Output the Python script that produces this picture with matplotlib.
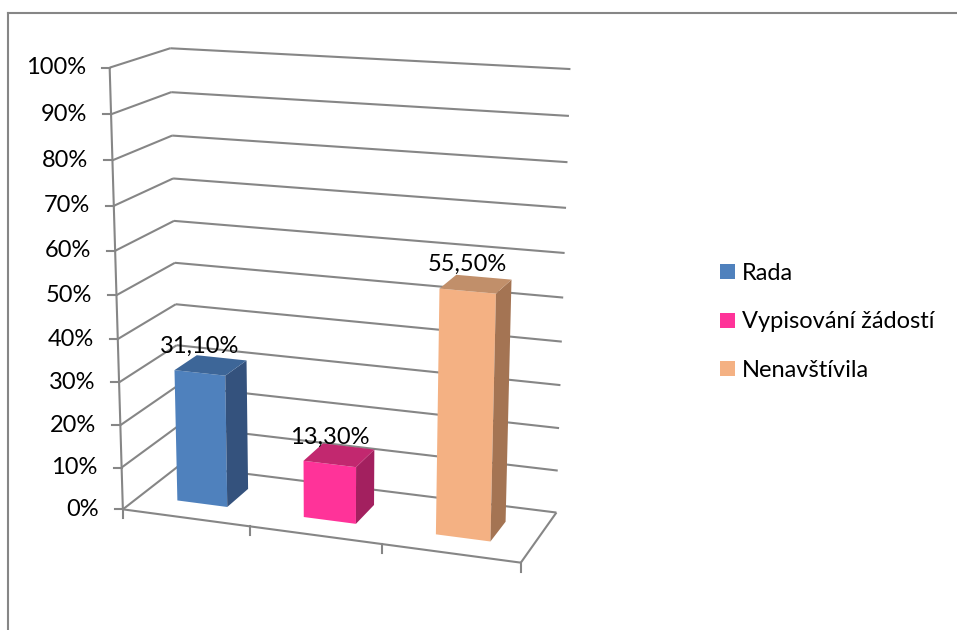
import numpy as np
import matplotlib
matplotlib.use("Agg")
import matplotlib.pyplot as plt
from matplotlib.patches import Polygon, Patch

# ---------------- data ----------------
categories = ["Rada", "Vypisování žádostí", "Nenavštívila"]
values = [31.1, 13.3, 55.5]
value_labels = ["31,10%", "13,30%", "55,50%"]
tick_values = [0, 10, 20, 30, 40, 50, 60, 70, 80, 90, 100]
tick_labels = ["0%", "10%", "20%", "30%", "40%", "50%", "60%", "70%", "80%", "90%", "100%"]

front_colors = ["#4F81BD", "#FF3399", "#F4B183"]
side_colors = ["#34527D", "#A3205F", "#A47453"]
top_colors = ["#3D6698", "#C2286F", "#C18F6A"]
grid_color = "#868686"

plt.rcParams['font.family'] = ['Lato', 'DejaVu Sans']
FS = 17

# ---------------- 3D -> screen camera (fitted to chart frame anchors) -------
# model space: X = category axis (0..3), Y = depth (0..1), Z = value fraction (0..1)
anchors = [
    ((0, 0, 1.0), (110, 67)), ((0, 0, 0.0), (123, 508)),
    ((1, 0, 0.0), (250, 528)), ((2, 0, 0.0), (382, 545)), ((3, 0, 0.0), (520, 562)),
    ((0, 1, 1.0), (171, 49)), ((0, 1, 0.9), (171, 92)), ((0, 1, 0.8), (171, 136)),
    ((0, 1, 0.7), (173, 178)),
    ((3, 1, 1.0), (570, 69)), ((3, 1, 0.9), (570, 116)), ((3, 1, 0.8), (567, 162)),
    ((3, 1, 0.7), (566, 208)), ((3, 1, 0.0), (557, 512)),
]
A = []
for (X, Y, Z), (u, v) in anchors:
    u, v = u / 500.0, v / 500.0
    P = [X, Y, Z, 1.0]
    A.append(P + [0, 0, 0, 0] + [-u * p for p in P])
    A.append([0, 0, 0, 0] + P + [-v * p for p in P])
_, _, Vt = np.linalg.svd(np.array(A))
M = Vt[-1].reshape(3, 4)


def proj(X, Y, Z):
    h = M @ np.array([X, Y, Z, 1.0])
    return h[0] / h[2] * 500.0, h[1] / h[2] * 500.0


fig = plt.figure(figsize=(9.57, 6.3), dpi=100)
ax = fig.add_axes([0, 0, 1, 1])
ax.set_xlim(0, 957)
ax.set_ylim(630, 0)
ax.axis('off')

lw = 1.5
ncat = len(categories)


def line3(p, q, **kw):
    a = proj(*p)
    b = proj(*q)
    ax.plot([a[0], b[0]], [a[1], b[1]], color=grid_color, lw=lw,
            solid_capstyle='butt', zorder=1, **kw)


# chart frame
ax.plot([8, 957], [13, 13], color=grid_color, lw=1.5)
ax.plot([8, 8], [13, 630], color=grid_color, lw=1.5)

# gridlines on left & back wall, value ticks and labels
for t, lab in zip(tick_values, tick_labels):
    z = t / 100.0
    line3((0, 0, z), (0, 1, z))
    line3((0, 1, z), (ncat, 1, z))
    u, v = proj(0, 0, z)
    ax.plot([u - 8, u], [v, v], color=grid_color, lw=lw)
    ax.text(u - 24, v, lab, ha='right', va='center', fontsize=FS, color='black')

# floor outline and value axis
line3((0, 0, 0), (0, 0, 1))
line3((0, 0, 0), (ncat, 0, 0))
line3((ncat, 0, 0), (ncat, 1, 0))
for i in range(ncat + 1):
    u, v = proj(i, 0, 0)
    ax.plot([u, u], [v, v + 9], color=grid_color, lw=lw)

# bars
for i, val in enumerate(values):
    x0, x1 = i + 0.3, i + 0.7
    y0, y1 = 0.3, 0.7
    z = val / 100.0
    faces = [
        ([(x0, y0, 0), (x1, y0, 0), (x1, y0, z), (x0, y0, z)], front_colors[i]),
        ([(x1, y0, 0), (x1, y1, 0), (x1, y1, z), (x1, y0, z)], side_colors[i]),
        ([(x0, y0, z), (x1, y0, z), (x1, y1, z), (x0, y1, z)], top_colors[i]),
    ]
    for pts, col in faces:
        xy = [proj(*p) for p in pts]
        ax.add_patch(Polygon(xy, closed=True, facecolor=col, edgecolor='none',
                             zorder=3))
    u, v = proj(i + 0.5, y0, z)
    ax.text(u, v - 27, value_labels[i], ha='center', va='center', fontsize=FS,
            color='black', zorder=4)

# legend
handles = [Patch(facecolor=c, edgecolor='none') for c in front_colors]
leg = ax.legend(handles, categories, loc='center left',
                bbox_to_anchor=(720 / 957, 1 - 322 / 630), frameon=False,
                fontsize=FS, handlelength=0.62, handleheight=0.62,
                handletextpad=0.3, labelspacing=1.17, borderpad=0,
                borderaxespad=0)

fig.savefig("out.png", dpi=100, facecolor='white')
